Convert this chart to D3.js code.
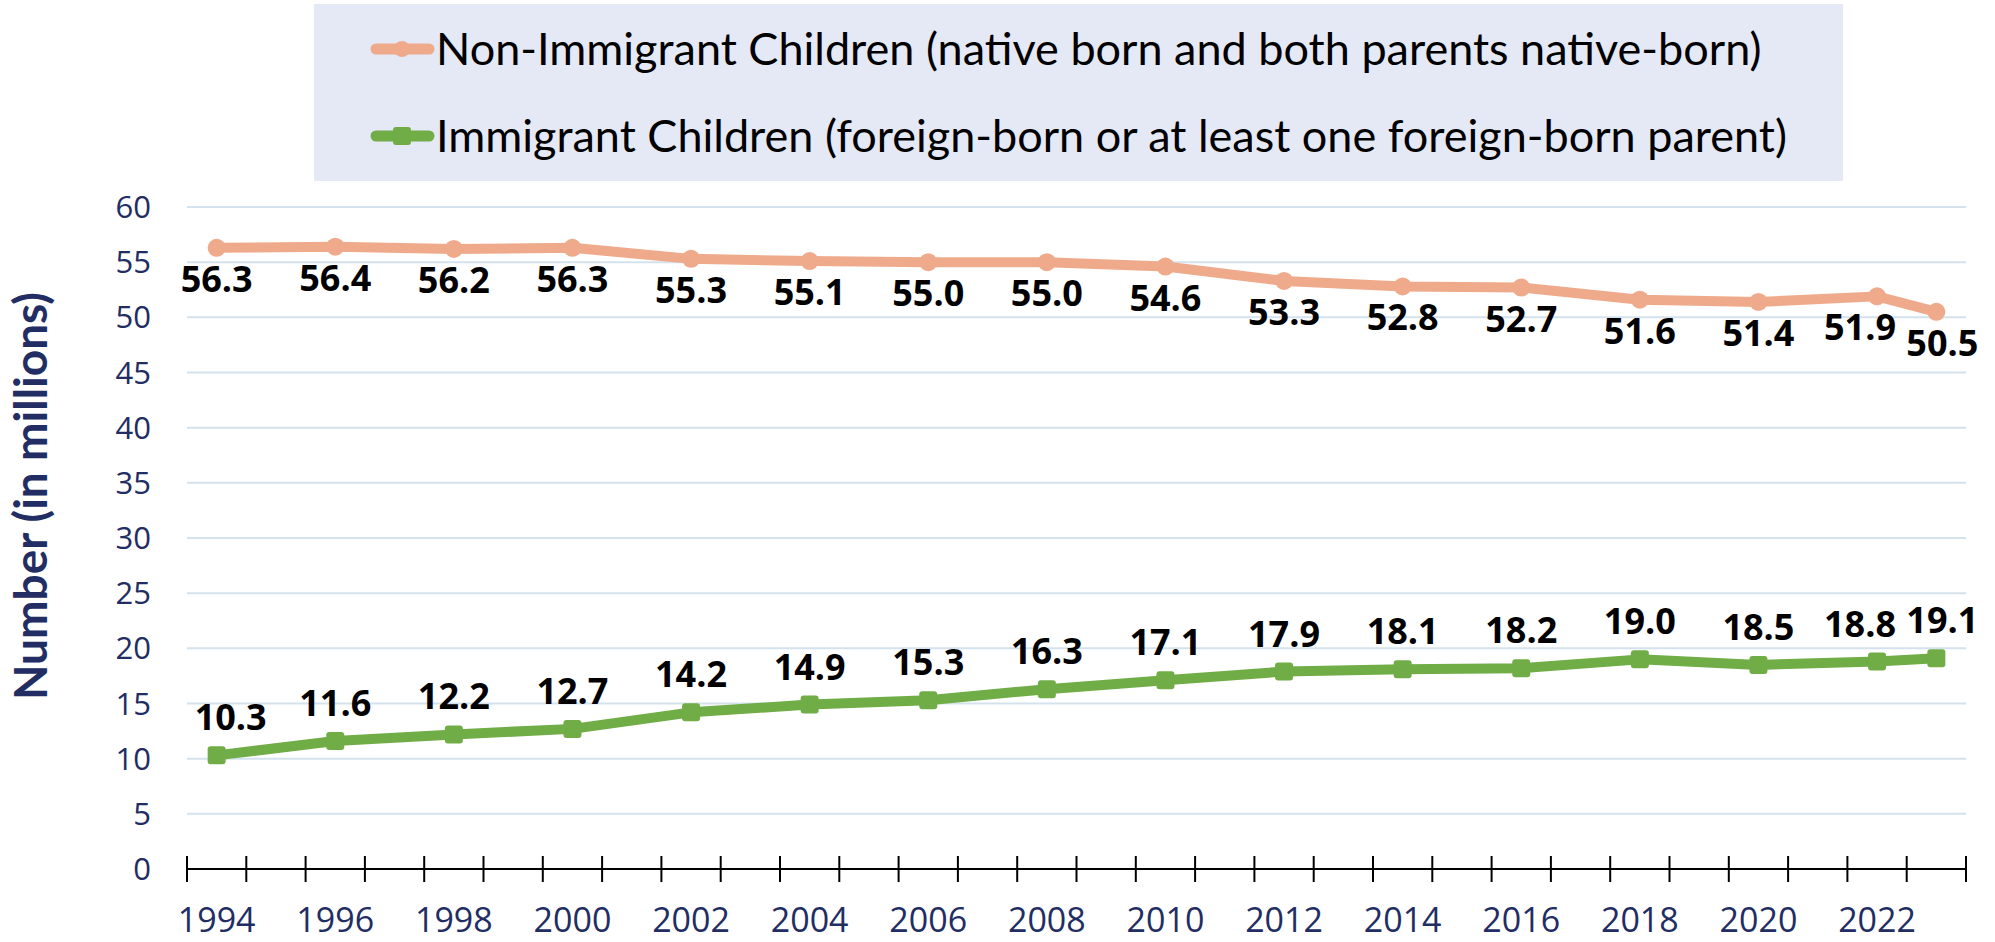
<!DOCTYPE html>
<html>
<head>
<meta charset="utf-8">
<script src="https://cdn.jsdelivr.net/npm/d3@7"></script>
<style>
  body { margin: 0; background: #fff; }
  svg { display: block; font-family: Lato, "Open Sans", sans-serif; }
  .num { font-family: "Open Sans", "Noto Sans", sans-serif; }
</style>
</head>
<body>
<div id="chart"></div>
<script>
// categories on the x axis (every year), with labels every two years
const years = d3.range(1994, 2024);
const labelYears = d3.range(1994, 2023, 2);

// data points
const pointYears = [1994, 1996, 1998, 2000, 2002, 2004, 2006, 2008, 2010, 2012, 2014, 2016, 2018, 2020, 2022, 2023];
const nonImmigrant = [56.3, 56.4, 56.2, 56.3, 55.3, 55.1, 55.0, 55.0, 54.6, 53.3, 52.8, 52.7, 51.6, 51.4, 51.9, 50.5];
const immigrant = [10.3, 11.6, 12.2, 12.7, 14.2, 14.9, 15.3, 16.3, 17.1, 17.9, 18.1, 18.2, 19.0, 18.5, 18.8, 19.1];
const yTicks = [0, 5, 10, 15, 20, 25, 30, 35, 40, 45, 50, 55, 60];

const seriesNames = [
  "Non-Immigrant Children (native born and both parents native-born)",
  "Immigrant Children (foreign-born or at least one foreign-born parent)"
];

const W = 1995, H = 942;
const orange = "#efaa8b", green = "#70ad47", navy = "#222d63";

// labels that were pushed sideways so they don't collide
const nudge = { 1994: 14, 2022: -17, 2023: 6 };

const svg = d3.select("#chart")
  .append("svg")
  .attr("width", W)
  .attr("height", H);

const x = d3.scaleBand()
  .domain(years)
  .range([187, 1966])
  .padding(0);

const y = d3.scaleLinear()
  .domain([0, 60])
  .range([869, 207]);

const cx = yr => x(yr) + x.bandwidth() / 2;

// gridlines
svg.append("g")
  .selectAll("line")
  .data(yTicks.filter(d => d > 0))
  .join("line")
  .attr("x1", 187)
  .attr("x2", 1966)
  .attr("y1", d => y(d))
  .attr("y2", d => y(d))
  .attr("stroke", "#d4e2ee")
  .attr("stroke-width", 2);

// y tick labels
svg.append("g")
  .selectAll("text")
  .data(yTicks)
  .join("text")
  .attr("class", "num")
  .attr("x", 151)
  .attr("y", d => y(d))
  .attr("dy", "0.36em")
  .attr("text-anchor", "end")
  .attr("fill", navy)
  .attr("font-size", 31)
  .text(d => d);

// x axis with crossing ticks at category boundaries
const xAxis = svg.append("g");
xAxis.append("line")
  .attr("x1", 187).attr("x2", 1966)
  .attr("y1", y(0)).attr("y2", y(0))
  .attr("stroke", "#000").attr("stroke-width", 2);
xAxis.selectAll(".tick")
  .data(years.concat([2024]))
  .join("line")
  .attr("class", "tick")
  .attr("x1", d => d === 2024 ? 1966 : x(d))
  .attr("x2", d => d === 2024 ? 1966 : x(d))
  .attr("y1", y(0) - 13)
  .attr("y2", y(0) + 13)
  .attr("stroke", "#000")
  .attr("stroke-width", 2);
xAxis.selectAll(".xlab")
  .data(labelYears)
  .join("text")
  .attr("class", "xlab num")
  .attr("x", d => cx(d))
  .attr("y", 932)
  .attr("text-anchor", "middle")
  .attr("fill", navy)
  .attr("font-size", 34)
  .text(d => d);

// y axis title
svg.append("text")
  .attr("transform", `translate(47,496) rotate(-90)`)
  .attr("text-anchor", "middle")
  .attr("fill", navy)
  .attr("font-size", 46)
  .attr("font-weight", "bold")
  .text("Number (in millions)");

const line = d3.line()
  .x((d, i) => cx(pointYears[i]))
  .y(d => y(d));

const labelX = (d, i) => cx(pointYears[i]) + (nudge[pointYears[i]] || 0);

// non-immigrant series
svg.append("path")
  .datum(nonImmigrant)
  .attr("fill", "none")
  .attr("stroke", orange)
  .attr("stroke-width", 10)
  .attr("stroke-linejoin", "round")
  .attr("d", line);

svg.append("g")
  .selectAll("circle")
  .data(nonImmigrant)
  .join("circle")
  .attr("cx", (d, i) => cx(pointYears[i]))
  .attr("cy", d => y(d))
  .attr("r", 9)
  .attr("fill", orange);

svg.append("g")
  .selectAll("text")
  .data(nonImmigrant)
  .join("text")
  .attr("class", "num")
  .attr("x", (d, i) => pointYears[i] === 1994 ? cx(1994) : labelX(d, i))
  .attr("y", d => y(d) + 44)
  .attr("text-anchor", "middle")
  .attr("font-size", 36)
  .attr("font-weight", "bold")
  .attr("fill", "#000")
  .text(d => d.toFixed(1));

// immigrant series
svg.append("path")
  .datum(immigrant)
  .attr("fill", "none")
  .attr("stroke", green)
  .attr("stroke-width", 10)
  .attr("stroke-linejoin", "round")
  .attr("d", line);

svg.append("g")
  .selectAll("rect")
  .data(immigrant)
  .join("rect")
  .attr("x", (d, i) => cx(pointYears[i]) - 9)
  .attr("y", d => y(d) - 9)
  .attr("width", 18)
  .attr("height", 18)
  .attr("rx", 3)
  .attr("fill", green);

svg.append("g")
  .selectAll("text")
  .data(immigrant)
  .join("text")
  .attr("class", "num")
  .attr("x", labelX)
  .attr("y", d => y(d) - 25)
  .attr("text-anchor", "middle")
  .attr("font-size", 36)
  .attr("font-weight", "bold")
  .attr("fill", "#000")
  .text(d => d.toFixed(1));

// legend
const legend = svg.append("g");
legend.append("rect")
  .attr("x", 314).attr("y", 4)
  .attr("width", 1843 - 314).attr("height", 177)
  .attr("fill", "#e4e9f5");

const legendRows = [
  { name: seriesNames[0], color: orange, shape: "circle", y: 49 },
  { name: seriesNames[1], color: green, shape: "square", y: 136 }
];

legendRows.forEach(r => {
  const g = legend.append("g").attr("transform", `translate(0,${r.y})`);
  g.append("line")
    .attr("x1", 376).attr("x2", 429)
    .attr("stroke", r.color)
    .attr("stroke-width", 11)
    .attr("stroke-linecap", "round");
  if (r.shape === "circle") {
    g.append("circle").attr("cx", 402).attr("r", 8).attr("fill", r.color);
  } else {
    g.append("rect").attr("x", 393).attr("y", -9).attr("width", 18).attr("height", 18)
      .attr("rx", 3).attr("fill", r.color);
  }
  g.append("text")
    .attr("x", 436)
    .attr("dy", "0.36em")
    .attr("font-size", 45)
    .attr("fill", "#000")
    .text(r.name);
});
</script>
</body>
</html>
